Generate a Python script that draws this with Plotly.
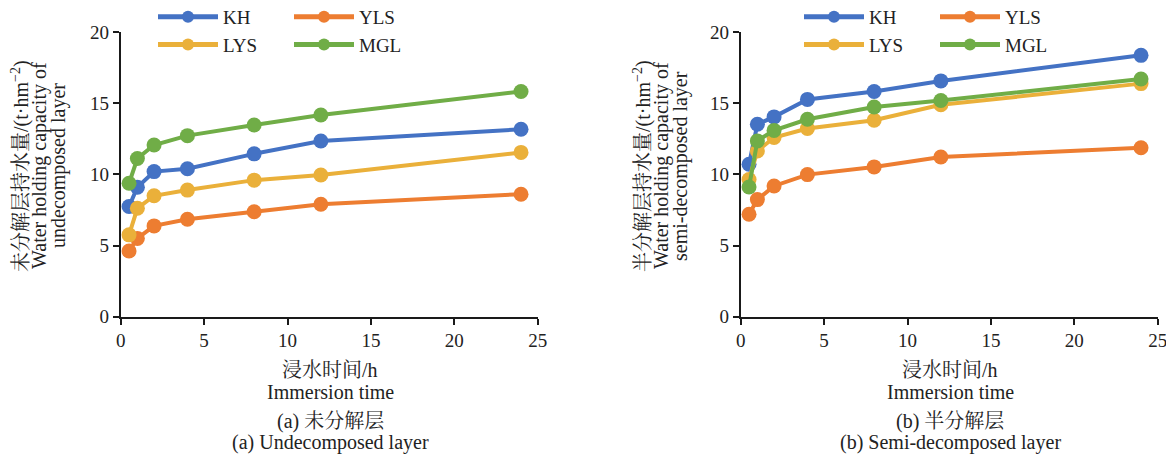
import plotly.graph_objects as go

# ---------------- data ----------------
time_h = [0.5, 1, 2, 4, 8, 12, 24]
series_names = ["KH", "YLS", "LYS", "MGL"]
colors = {"KH": "#4472C4", "YLS": "#ED7D31", "LYS": "#EAB03A", "MGL": "#70AD47"}

# (a) undecomposed layer
undec_KH = [7.75, 9.1, 10.2, 10.4, 11.45, 12.35, 13.18]
undec_YLS = [4.62, 5.5, 6.38, 6.85, 7.38, 7.9, 8.61]
undec_LYS = [5.75, 7.62, 8.5, 8.9, 9.6, 9.96, 11.55]
undec_MGL = [9.38, 11.12, 12.07, 12.73, 13.48, 14.18, 15.84]

# (b) semi-decomposed layer
semi_KH = [10.72, 13.53, 14.05, 15.28, 15.84, 16.58, 18.38]
semi_YLS = [7.2, 8.23, 9.19, 9.99, 10.53, 11.23, 11.88]
semi_LYS = [9.64, 11.65, 12.6, 13.23, 13.81, 14.9, 16.39]
semi_MGL = [9.12, 12.36, 13.1, 13.88, 14.75, 15.2, 16.72]

x_ticks = [0, 5, 10, 15, 20, 25]
y_ticks = [0, 5, 10, 15, 20]

undec = {"KH": undec_KH, "YLS": undec_YLS, "LYS": undec_LYS, "MGL": undec_MGL}
semi = {"KH": semi_KH, "YLS": semi_YLS, "LYS": semi_LYS, "MGL": semi_MGL}

SERIF = "Liberation Serif, 'Noto Serif CJK SC', 'Noto Sans CJK SC', serif"
W, H = 1174, 456
PAGE_OFFSET = 8  # default body margin of the html page

fig = go.Figure()

legend_of = {"KH": ("legend", "legend3"), "LYS": ("legend", "legend3"),
             "YLS": ("legend2", "legend4"), "MGL": ("legend2", "legend4")}

for name in series_names:
    fig.add_trace(go.Scatter(
        x=time_h, y=undec[name], name=name, mode="lines+markers",
        line=dict(color=colors[name], width=4),
        marker=dict(color=colors[name], size=15),
        xaxis="x", yaxis="y", legend=legend_of[name][0],
    ))
for name in series_names:
    fig.add_trace(go.Scatter(
        x=time_h, y=semi[name], name=name, mode="lines+markers",
        line=dict(color=colors[name], width=4),
        marker=dict(color=colors[name], size=15),
        xaxis="x2", yaxis="y2", legend=legend_of[name][1],
    ))

def px_x(p):
    return (p - PAGE_OFFSET) / W

def px_y(p):
    return (H - (p - PAGE_OFFSET)) / H

ydom = [px_y(316.6), px_y(32.3)]
axis_common = dict(
    showline=True, linecolor="#1a1a1a", linewidth=2,
    ticks="outside", ticklen=6, tickwidth=2, tickcolor="#1a1a1a",
    showgrid=False, zeroline=False,
    tickfont=dict(family=SERIF, size=19, color="#222222"),
)

fig.update_layout(
    width=W, height=H,
    margin=dict(l=0, r=0, t=0, b=0, pad=0, autoexpand=False),
    paper_bgcolor="white", plot_bgcolor="white",
    xaxis=dict(domain=[px_x(120.7), px_x(537.7)], range=[0, 25], tickvals=x_ticks,
               anchor="y", automargin=False, **axis_common),
    yaxis=dict(domain=ydom, range=[0, 20], tickvals=y_ticks, anchor="x",
               automargin=False, **axis_common),
    xaxis2=dict(domain=[px_x(740.7), px_x(1157.7)], range=[0, 25], tickvals=x_ticks,
                anchor="y2", automargin=False, **axis_common),
    yaxis2=dict(domain=ydom, range=[0, 20], tickvals=y_ticks, anchor="x2",
                automargin=False, **axis_common),
)

leg_common = dict(orientation="v", xanchor="left", yanchor="top", y=px_y(-2),
                  bgcolor="rgba(0,0,0,0)", itemwidth=60, itemsizing="constant",
                  font=dict(family=SERIF, size=19, color="#222222"),
                  tracegroupgap=0)
fig.update_layout(
    legend=dict(x=px_x(153), **leg_common),
    legend2=dict(x=px_x(289), **leg_common),
    legend3=dict(x=px_x(799), **leg_common),
    legend4=dict(x=px_x(935), **leg_common),
)

ann_font = dict(family=SERIF, size=20, color="#222222")

def add_text(text, x, y, angle=0):
    fig.add_annotation(text=text, x=px_x(x), y=px_y(y), xref="paper", yref="paper",
                       showarrow=False, xanchor="center", yanchor="middle",
                       textangle=angle, font=ann_font)

# x-axis titles and captions
for cx, cap_cn, cap_en in [(330, "(a) 未分解层", "(a) Undecomposed layer"),
                           (950, "(b) 半分解层", "(b) Semi-decomposed layer")]:
    add_text("浸水时间/h", cx, 370)
    add_text("Immersion time", cx, 392)
    add_text(cap_cn, cx, 421)
    add_text(cap_en, cx, 442)

# y-axis titles (one annotation per line for tight line spacing)
for x0, lines in [(21, ["未分解层持水量/(t·hm<sup>−2</sup>)", "Water holding capacity of",
                        "undecomposed layer"]),
                  (643, ["半分解层持水量/(t·hm<sup>−2</sup>)", "Water holding capacity of",
                         "semi-decomposed layer"])]:
    for i, line in enumerate(lines):
        add_text(line, x0 + 19 * i, 166, -90)

fig.write_html("out.html")
